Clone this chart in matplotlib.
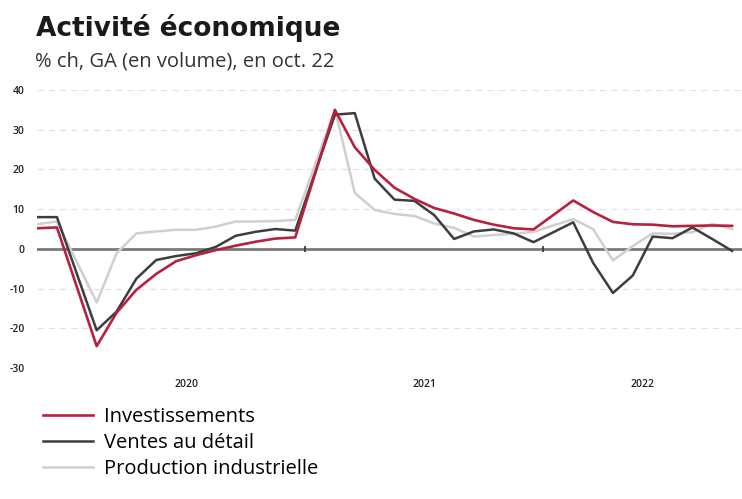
import numpy as np
import matplotlib.pyplot as plt

# mois (nov. 2019 -> oct. 2022), janvier et février regroupés
mois = ['2019-11', '2019-12',
        '2020-02', '2020-03', '2020-04', '2020-05', '2020-06', '2020-07',
        '2020-08', '2020-09', '2020-10', '2020-11', '2020-12',
        '2021-02', '2021-03', '2021-04', '2021-05', '2021-06', '2021-07',
        '2021-08', '2021-09', '2021-10', '2021-11', '2021-12',
        '2022-02', '2022-03', '2022-04', '2022-05', '2022-06', '2022-07',
        '2022-08', '2022-09', '2022-10']

investissements = [5.2, 5.4,
                   -24.5, -16.1, -10.3, -6.3, -3.1, -1.6, -0.3, 0.8, 1.8, 2.6, 2.9,
                   35.0, 25.6, 19.9, 15.4, 12.6, 10.3, 8.9, 7.3, 6.1, 5.2, 4.9,
                   12.2, 9.3, 6.8, 6.2, 6.1, 5.7, 5.8, 5.9, 5.8]
ventes = [8.0, 8.0,
          -20.5, -15.8, -7.5, -2.8, -1.8, -1.1, 0.5, 3.3, 4.3, 5.0, 4.6,
          33.8, 34.2, 17.7, 12.4, 12.1, 8.5, 2.5, 4.4, 4.9, 3.9, 1.7,
          6.7, -3.5, -11.1, -6.7, 3.1, 2.7, 5.4, 2.5, -0.5]
production = [6.2, 6.9,
              -13.5, -1.1, 3.9, 4.4, 4.8, 4.8, 5.6, 6.9, 6.9, 7.0, 7.3,
              35.1, 14.1, 9.8, 8.8, 8.3, 6.4, 5.3, 3.1, 3.5, 3.8, 4.3,
              7.5, 5.0, -2.9, 0.7, 3.9, 3.8, 4.2, 6.3, 5.0]

annees = ['2020', '2021', '2022']
y_ticks = [-30, -20, -10, 0, 10, 20, 30, 40]

# position en mois depuis nov. 2019
x = np.array([(int(m[:4]) - 2019) * 12 + int(m[5:]) - 11 for m in mois])
xmax = x[-1] + 0.5
limites = [(int(a) - 2019) * 12 + 1 - 11 - 0.5 for a in annees]  # début janvier
milieux = [(max(l, 0) + min(l + 12, xmax)) / 2 for l in limites]

plt.rcParams['font.family'] = ['Open Sans', 'DejaVu Sans']

fig = plt.figure(figsize=(7.42, 4.99), dpi=100)
ax = fig.add_axes([0.05, 0.2625, 0.95, 0.557])

for v in y_ticks:
    if v != 0:
        ax.axhline(v, color='#e2e2e2', lw=0.9, ls=(0, (5, 4)), zorder=0)
ax.axhline(0, color='#7a7a7a', lw=2, zorder=1)

ax.plot(x, production, color='#cfcfcf', lw=1.8, label='Production industrielle', zorder=2)
ax.plot(x, ventes, color='#3d3d3d', lw=1.8, label='Ventes au détail', zorder=3)
ax.plot(x, investissements, color='#b8203f', lw=1.9, label='Investissements', zorder=4)

# petits repères de changement d'année sur la ligne zéro
ax.plot(limites[1:], [0] * len(limites[1:]), ls='none', marker='|', ms=5,
        mew=1.2, color='#333333', zorder=5)

ax.set_xlim(0, xmax)
ax.set_ylim(-30, 40)
ax.set_yticks(y_ticks)
ax.set_yticklabels([str(v) for v in y_ticks], fontsize=7.5, color='#222222',
                   fontweight='semibold')
ax.set_xticks(milieux)
ax.set_xticklabels(annees, fontsize=7.5, color='#222222', fontweight='semibold')
ax.tick_params(length=0, pad=8)
ax.tick_params(axis='y', pad=9)
for s in ax.spines.values():
    s.set_visible(False)

fig.text(0.048, 1 - 36 / 499, 'Activité économique', fontsize=19,
         fontweight='bold', family='DejaVu Sans', color='#1a1a1a')
fig.text(0.047, 1 - 66 / 499, '% ch, GA (en volume), en oct. 22', fontsize=14.5,
         color='#333333')

h, l = ax.get_legend_handles_labels()
fig.legend(h[::-1], l[::-1], loc='upper left', bbox_to_anchor=(0.047, 0.2),
           frameon=False, fontsize=14.5, handlelength=2.5, handletextpad=0.55,
           labelspacing=0.3, borderaxespad=0)

fig.savefig('out.png', dpi=100)
